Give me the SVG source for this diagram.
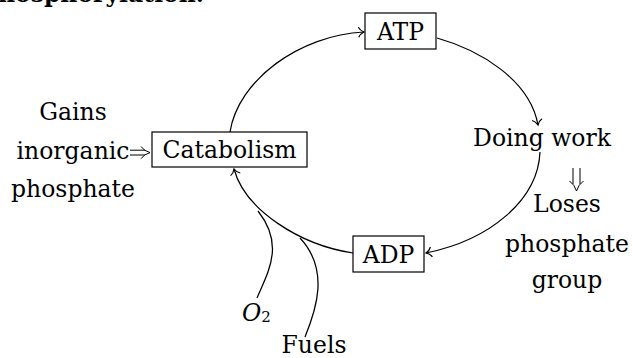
<svg xmlns="http://www.w3.org/2000/svg" width="633" height="358" viewBox="0 0 633 358">
<style>
  .t { font-family: "DejaVu Serif", "Liberation Serif", serif; font-size: 23.5px; fill: #000; }
  .c { text-anchor: middle; }
  .box { fill: #fff; stroke: #000; stroke-width: 1.2; }
  .edge { fill: none; stroke: #000; stroke-width: 1.25; }
  .dbl { fill: none; stroke: #000; stroke-width: 1; }
</style>
<defs>
  <marker id="arr" markerUnits="userSpaceOnUse" markerWidth="14" markerHeight="14" viewBox="-7 -7 14 14" refX="0" refY="0" orient="auto">
    <path d="M-5.5,-5 C-4.2,-2.2 -1.4,-0.6 0,0 C-1.4,0.6 -4.2,2.2 -5.5,5" fill="none" stroke="#000" stroke-width="1.2"/>
  </marker>
</defs>
<rect width="633" height="358" fill="#fff"/>

<text class="t" x="204" y="1.5" text-anchor="end" font-weight="bold">phosphorylation.</text>

<g id="connectors">
  <path class="edge" d="M230,132 C238,80 300,35 364,32" marker-end="url(#arr)"/>
  <path class="edge" d="M437,38 C480,50 530,80 538,125" marker-end="url(#arr)"/>
  <path class="edge" d="M540,152 C538,200 490,240 426,253" marker-end="url(#arr)"/>
  <path class="edge" d="M353,253 C300,245 245,210 234,169" marker-end="url(#arr)"/>
  <path class="edge" d="M257,298 C268,272 285,245 258,211"/>
  <path class="edge" d="M305,337 C316,310 330,270 300,238"/>
  <g id="gains-arrow">
    <path class="dbl" d="M130,150.2 H145 M130,155 H145"/>
    <path class="dbl" d="M141,146.5 Q144,151 150,152.6 Q144,154.2 141,158.7"/>
  </g>
  <g id="loses-arrow">
    <path class="dbl" d="M573,168 V184 M580,168 V184"/>
    <path class="dbl" d="M569.5,181 Q574.5,184.5 576.5,191 Q578.5,184.5 583.5,181"/>
  </g>
</g>

<g id="atp">
  <rect class="box" x="365" y="13" width="71" height="36"/>
  <text class="t c" x="400.5" y="40">ATP</text>
</g>
<g id="catabolism">
  <rect class="box" x="152" y="132" width="155" height="35"/>
  <text class="t c" x="229.5" y="158">Catabolism</text>
</g>
<g id="adp">
  <rect class="box" x="353" y="236" width="71" height="36"/>
  <text class="t c" x="388.5" y="263">ADP</text>
</g>
<g id="doing-work">
  <text class="t c" x="542" y="146">Doing work</text>
</g>
<g id="gains">
  <text class="t c" x="73" y="120">Gains</text>
  <text class="t c" x="73" y="159">inorganic</text>
  <text class="t c" x="73" y="197">phosphate</text>
</g>
<g id="loses">
  <text class="t c" x="567" y="212">Loses</text>
  <text class="t c" x="567" y="252">phosphate</text>
  <text class="t c" x="567" y="288">group</text>
</g>
<g id="o2">
  <text class="t" x="242" y="321"><tspan font-style="italic">O</tspan><tspan font-size="15" dy="1">2</tspan></text>
</g>
<g id="fuels">
  <text class="t c" x="314" y="353">Fuels</text>
</g>
</svg>
